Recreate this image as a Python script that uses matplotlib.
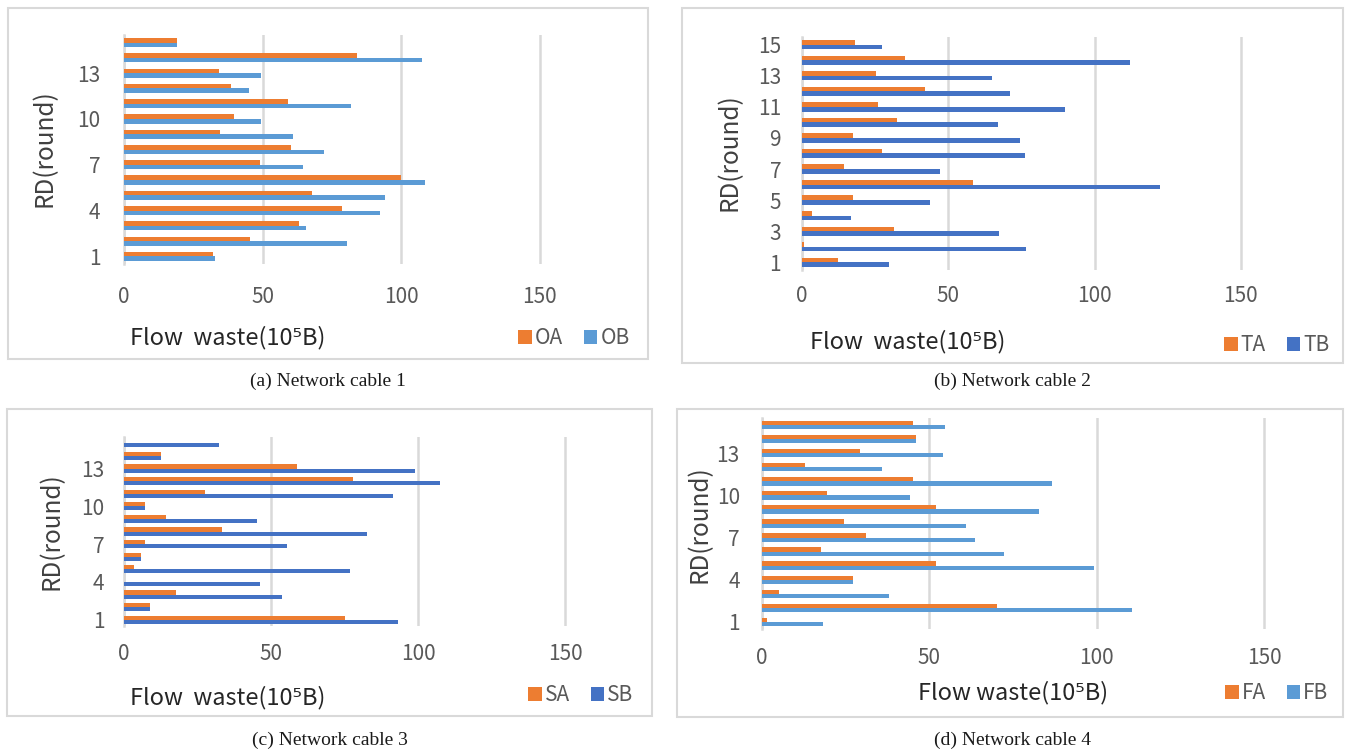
import matplotlib
matplotlib.use('Agg')
import matplotlib.pyplot as plt
from matplotlib.patches import Rectangle
import numpy as np

# rounds 1..15
rounds = np.arange(1, 16)

# (a) network cable 1
OA = [32, 45.5, 63.3, 78.6, 67.8, 99.9, 49, 60.2, 34.8, 39.6, 59.1, 38.6, 34.4, 84, 19]
OB = [32.7, 80.6, 65.7, 92.2, 94.2, 108.5, 64.6, 72.3, 60.9, 49.5, 82, 45.2, 49.5, 107.5, 19]
# (b) network cable 2
TA = [12.3, 0.8, 31.3, 3.4, 17.5, 58.5, 14.5, 27.3, 17.5, 32.3, 25.9, 41.9, 25.4, 35.1, 18]
TB = [29.7, 76.7, 67.2, 16.9, 43.8, 122.3, 47, 76.3, 74.4, 66.9, 89.9, 71, 64.8, 112.2, 27.3]
# (c) network cable 3
SA = [75.3, 8.8, 17.7, 0, 3.3, 5.9, 7.2, 33.4, 14.4, 7.2, 27.4, 77.9, 58.9, 12.5, 0]
SB = [93, 8.8, 53.7, 46.4, 76.7, 5.9, 55.3, 82.5, 45.2, 7.2, 91.3, 107.4, 98.9, 12.5, 32.4]
# (d) network cable 4
FA = [1.5, 70.1, 5, 27.1, 52, 17.6, 31.2, 24.5, 52, 19.3, 45.2, 12.9, 29.4, 46, 45.2]
FB = [18.1, 110.6, 38, 27.1, 99.2, 72.2, 63.5, 61, 82.9, 44.3, 86.6, 36, 54.2, 46, 54.7]

xticks = [0, 50, 100, 150]
ticks_every3 = [1, 4, 7, 10, 13]
ticks_every2 = [1, 3, 5, 7, 9, 11, 13, 15]

ORANGE = '#ED7D31'
LIGHTBLUE = '#5B9BD5'
DARKBLUE = '#4472C4'
GRID = '#D9D9D9'
TXT = '#595959'

W, H = 1351, 753
fig = plt.figure(figsize=(W / 100, H / 100), dpi=100)
plt.rcParams['font.family'] = ['Noto Sans CJK SC', 'DejaVu Sans']


def px_axes(l, t, r, b):
    return fig.add_axes([l / W, 1 - b / H, (r - l) / W, (b - t) / H])


def frame(l, t, r, b):
    fig.patches.append(Rectangle((l / W, 1 - b / H), (r - l) / W, (b - t) / H,
                                 transform=fig.transFigure, fill=False,
                                 edgecolor=GRID, linewidth=1.5))


panels = [
    dict(a=OA, b=OB, names=('OA', 'OB'), cb=LIGHTBLUE, box=(124, 35, 609, 264), xmax=175,
         yt=ticks_every3, ypad=17, xpad=16, frame=(8, 8, 648, 359),
         xl='Flow  waste(10⁵B)', xlpos=(228, 338), ylpos=(45, 148), lgpos=(640, 338),
         cap='(a) Network cable 1', cappos=(328, 381), h=0.3),
    dict(a=TA, b=TB, names=('TA', 'TB'), cb=DARKBLUE, box=(802, 37, 1314, 270), xmax=175,
         yt=ticks_every2, ypad=15, xpad=11, frame=(682, 8, 1343, 363),
         xl='Flow  waste(10⁵B)', xlpos=(908, 342), ylpos=(730, 152), lgpos=(1340, 345),
         cap='(b) Network cable 2', cappos=(1012, 381), h=0.3),
    dict(a=SA, b=SB, names=('SA', 'SB'), cb=DARKBLUE, box=(124, 437, 624, 626), xmax=170,
         yt=ticks_every3, ypad=14, xpad=12, frame=(7, 409, 652, 716),
         xl='Flow  waste(10⁵B)', xlpos=(228, 698), ylpos=(52, 531), lgpos=(644, 695),
         cap='(c) Network cable 3', cappos=(330, 740), h=0.33),
    dict(a=FA, b=FB, names=('FA', 'FB'), cb=LIGHTBLUE, box=(762, 418, 1331, 629), xmax=170,
         yt=ticks_every3, ypad=16, xpad=13, frame=(677, 409, 1343, 717),
         xl='Flow waste(10⁵B)', xlpos=(1013, 693), ylpos=(700, 524), lgpos=(1339, 693),
         cap='(d) Network cable 4', cappos=(1012, 740), h=0.3),
]

for p in panels:
    frame(*p['frame'])
    ax = px_axes(*p['box'])
    h = p['h']
    ba = ax.barh(rounds + h / 2, p['a'], height=h, color=ORANGE, zorder=3)
    bb = ax.barh(rounds - h / 2, p['b'], height=h, color=p['cb'], zorder=3)
    ax.set_xlim(0, p['xmax'])
    ax.set_ylim(0.5, 15.5)
    ax.set_xticks(xticks)
    ax.set_yticks(p['yt'])
    ax.grid(axis='x', color=GRID, linewidth=1.8, zorder=0)
    for s in ['top', 'right', 'bottom']:
        ax.spines[s].set_visible(False)
    ax.spines['left'].set_color(GRID)
    ax.spines['left'].set_linewidth(1.8)
    ax.tick_params(axis='y', length=0, pad=p['ypad'], labelsize=15, labelcolor=TXT)
    ax.tick_params(axis='x', length=0, pad=p['xpad'], labelsize=15, labelcolor=TXT)

    fig.text(p['xlpos'][0] / W, 1 - p['xlpos'][1] / H, p['xl'], ha='center', va='center',
             fontsize=17, color='#262626')
    fig.text(p['ylpos'][0] / W, 1 - p['ylpos'][1] / H, 'RD(round)', ha='center', va='center',
             rotation=90, fontsize=17.5, color='#404040')
    fig.legend([ba, bb], p['names'], loc='center right',
               bbox_to_anchor=(p['lgpos'][0] / W, 1 - p['lgpos'][1] / H),
               ncol=2, frameon=False, fontsize=15, handlelength=0.65, handleheight=0.65,
               handletextpad=0.15, columnspacing=1.0, borderpad=0, labelcolor=TXT)
    fig.text(p['cappos'][0] / W, 1 - p['cappos'][1] / H, p['cap'], ha='center', va='center',
             fontsize=14, family='Liberation Serif', color='#1a1a1a')

fig.savefig('out.png', dpi=100)
